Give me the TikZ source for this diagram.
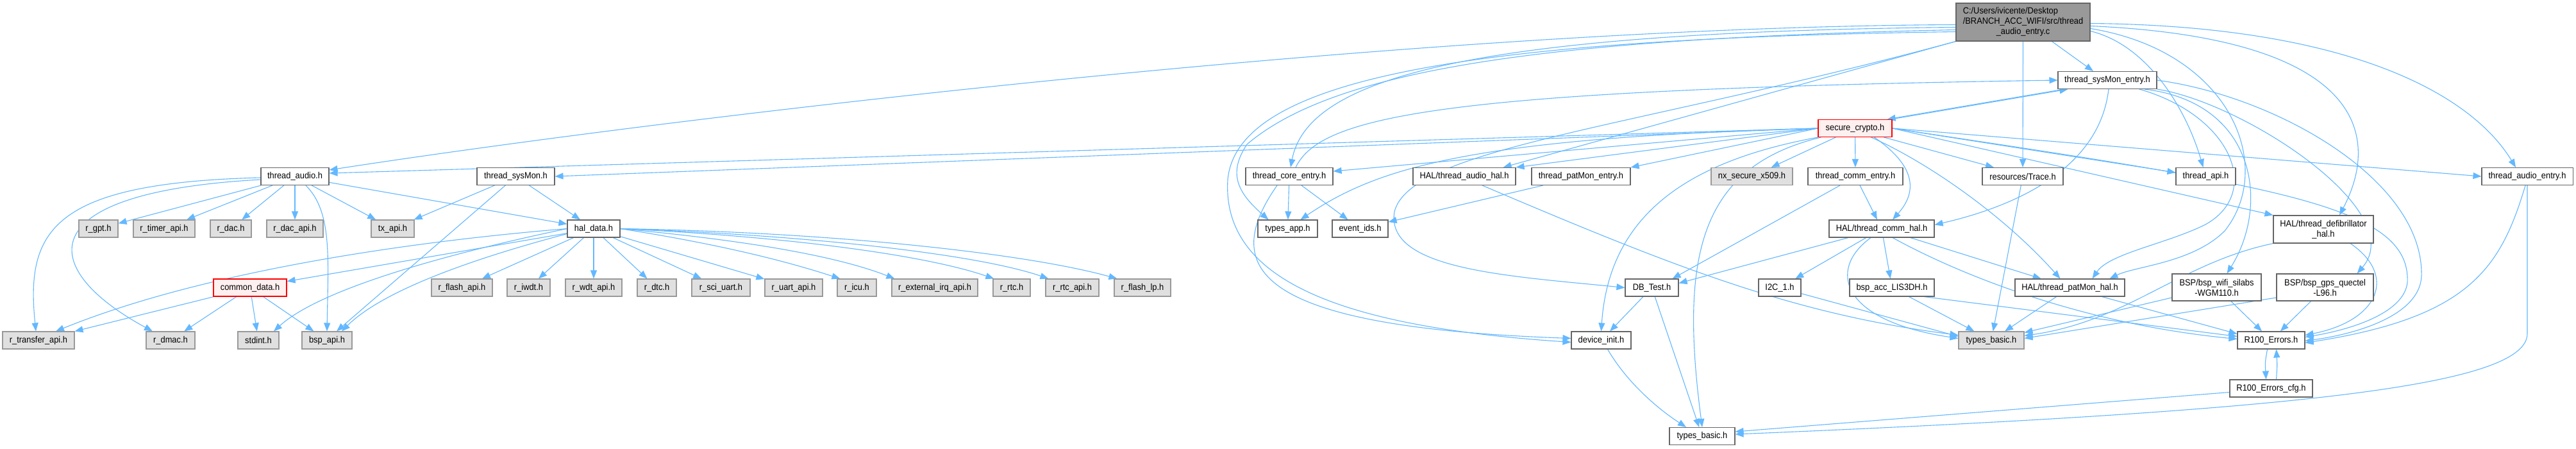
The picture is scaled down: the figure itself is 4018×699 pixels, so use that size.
\documentclass[tikz,border=0pt]{standalone}
\usepackage{fontspec}
\setmainfont{Liberation Sans}[FakeStretch=0.92]
\usetikzlibrary{arrows.meta}
\pgfdeclarelayer{bg}
\pgfsetlayers{bg,main}
\definecolor{edgec}{HTML}{63B8FF}
\definecolor{wborder}{HTML}{666666}
\definecolor{gfill}{HTML}{E0E0E0}
\definecolor{gborder}{HTML}{999999}
\definecolor{rfill}{HTML}{FFF0F0}
\definecolor{rootfill}{HTML}{999999}
\begin{document}
\begin{tikzpicture}[x=1pt,y=-1pt,
 box/.style={rectangle,inner sep=0pt,minimum height=27pt,line width=1.1pt,font=\fontsize{14}{16}\selectfont,align=center},
 wn/.style={box,draw=wborder,fill=white},
 gn/.style={box,draw=gborder,fill=gfill},
 rn/.style={box,draw=red,fill=rfill},
 rootn/.style={box,draw=wborder,fill=rootfill},
 dep/.style={draw=edgec,line width=1.1pt,-{Triangle[length=13pt,width=10pt]}}]
\useasboundingbox (0,0) rectangle (4018,699);
% ---------- nodes ----------
\node[rootn,minimum width=209pt,minimum height=59pt] (R) at (3155.5,34.5)
 {\begin{tabular}{@{}l@{}}C:/Users/ivicente/Desktop\\/BRANCH\_ACC\_WIFI/src/thread\\\multicolumn{1}{@{}c@{}}{\_audio\_entry.c}\end{tabular}};
\node[wn,minimum width=154pt] (TSE) at (3287,125) {thread\_sysMon\_entry.h};
\node[rn,minimum width=115pt] (SC) at (2893.5,200) {secure\_crypto.h};
% row 3
\node[wn,minimum width=106pt] (TA) at (460,275) {thread\_audio.h};
\node[wn,minimum width=121pt] (TSM) at (804.5,275) {thread\_sysMon.h};
\node[wn,minimum width=136pt] (TCE) at (2011,275) {thread\_core\_entry.h};
\node[wn,minimum width=160pt] (TAH) at (2284,275) {HAL/thread\_audio\_hal.h};
\node[wn,minimum width=154pt] (PME) at (2466,275) {thread\_patMon\_entry.h};
\node[gn,minimum width=127pt] (NX) at (2732.5,275) {nx\_secure\_x509.h};
\node[wn,minimum width=148pt] (CE) at (2894,275) {thread\_comm\_entry.h};
\node[wn,minimum width=126pt] (TR) at (3155,275) {resources/Trace.h};
\node[wn,minimum width=93pt] (TAPI) at (3440.5,275) {thread\_api.h};
\node[wn,minimum width=142pt] (TAE) at (3942,275) {thread\_audio\_entry.h};
% row 4
\node[gn,minimum width=61pt] (gpt) at (153.5,356.5) {r\_gpt.h};
\node[gn,minimum width=96pt] (timer) at (256,356.5) {r\_timer\_api.h};
\node[gn,minimum width=64pt] (dac) at (360,356.5) {r\_dac.h};
\node[gn,minimum width=88pt] (dacapi) at (460,356.5) {r\_dac\_api.h};
\node[gn,minimum width=67pt] (tx) at (612.5,356.5) {tx\_api.h};
\node[wn,minimum width=82pt] (HD) at (926,356.5) {hal\_data.h};
\node[wn,minimum width=93pt] (TAPP) at (2008.5,356.5) {types\_app.h};
\node[wn,minimum width=87pt] (EV) at (2121.5,356.5) {event\_ids.h};
\node[wn,minimum width=164pt] (CH) at (2935,356.5) {HAL/thread\_comm\_hal.h};
\node[wn,minimum width=156pt,minimum height=43pt] (DEF) at (3624,357.5) {HAL/thread\_defibrillator\\\_hal.h};
% row 5
\node[rn,minimum width=114pt] (CD) at (390,448.5) {common\_data.h};
\node[gn,minimum width=95pt] (flash) at (720.5,448.5) {r\_flash\_api.h};
\node[gn,minimum width=67pt] (iwdt) at (824.5,448.5) {r\_iwdt.h};
\node[gn,minimum width=88pt] (wdt) at (926,448.5) {r\_wdt\_api.h};
\node[gn,minimum width=61pt] (dtc) at (1024.5,448.5) {r\_dtc.h};
\node[gn,minimum width=91pt] (sci) at (1124.5,448.5) {r\_sci\_uart.h};
\node[gn,minimum width=90pt] (uart) at (1238,448.5) {r\_uart\_api.h};
\node[gn,minimum width=61pt] (icu) at (1336.5,448.5) {r\_icu.h};
\node[gn,minimum width=134pt] (extirq) at (1458,448.5) {r\_external\_irq\_api.h};
\node[gn,minimum width=58pt] (rtc) at (1578,448.5) {r\_rtc.h};
\node[gn,minimum width=83pt] (rtcapi) at (1672.5,448.5) {r\_rtc\_api.h};
\node[gn,minimum width=88pt] (flashlp) at (1782,448.5) {r\_flash\_lp.h};
\node[wn,minimum width=83pt] (DB) at (2576.5,448.5) {DB\_Test.h};
\node[wn,minimum width=66pt] (I2C) at (2776,448.5) {I2C\_1.h};
\node[wn,minimum width=132pt] (ACC) at (2951,448.5) {bsp\_acc\_LIS3DH.h};
\node[wn,minimum width=171pt] (PMH) at (3228.5,448.5) {HAL/thread\_patMon\_hal.h};
\node[wn,minimum width=139pt,minimum height=42pt] (WIFI) at (3457.5,448) {BSP/bsp\_wifi\_silabs\\-WGM110.h};
\node[wn,minimum width=151pt,minimum height=42pt] (GPS) at (3626.5,448) {BSP/bsp\_gps\_quectel\\-L96.h};
% row 6
\node[gn,minimum width=112pt] (xfer) at (60,530.5) {r\_transfer\_api.h};
\node[gn,minimum width=76pt] (dmac) at (266,530.5) {r\_dmac.h};
\node[gn,minimum width=64pt] (stdint) at (403,530.5) {stdint.h};
\node[gn,minimum width=78pt] (bsp) at (510,530.5) {bsp\_api.h};
\node[wn,minimum width=93pt] (DI) at (2497.5,530.5) {device\_init.h};
\node[gn,minimum width=102pt] (TBG) at (3106,530.5) {types\_basic.h};
\node[wn,minimum width=105pt] (RE) at (3542.5,530.5) {R100\_Errors.h};
% row 7,8
\node[wn,minimum width=129pt] (REC) at (3542.5,605.5) {R100\_Errors\_cfg.h};
\node[wn,minimum width=102pt] (TBW) at (2655,680) {types\_basic.h};
% ---------- edges ----------
\begin{pgfonlayer}{bg}
\fill[white] (0,0) rectangle (4018,699);
% root
\draw[dep] ([yshift=-4pt]R.west) .. controls (2200,42) and (1000,190) .. ([yshift=10pt]TA.east);
\draw[dep] ([yshift=-8pt]R.west) .. controls (2300,50) and (2040,120) .. ([xshift=2pt]TCE.north);
\draw[dep] ([yshift=-12pt]R.west) .. controls (2400,60) and (2080,110) .. (1945,225) .. controls (1915,270) and (1930,300) .. ([xshift=-30pt]TAPP.north);
\draw[dep] ([yshift=-15pt]R.west) .. controls (2300,60) and (1930,120) .. (1915,280) .. controls (1905,440) and (2100,510) .. ([yshift=-3pt]DI.west);
\draw[dep] (R.south west) -- ([xshift=-20pt]TAH.north east);
\draw[dep] (R.south west) .. controls (2550,200) and (2200,230) .. (2175,330) .. controls (2160,420) and (2350,430) .. (DB.west);
\draw[dep] ([xshift=45pt]R.south) -- ([xshift=-22pt]TSE.north);
\draw[dep] (R.south) -- (TR.north);
\draw[dep] ([yshift=-2pt]R.east) .. controls (3650,40) and (3850,140) .. ([xshift=-18pt]TAE.north);
\draw[dep] ([yshift=-6pt]R.east) .. controls (3700,60) and (3710,220) .. ([xshift=25pt]DEF.north);
\draw[dep] ([yshift=-10pt]R.east) .. controls (3480,80) and (3550,260) .. (3470,360) .. controls (3420,410) and (3330,415) .. ([xshift=62pt]PMH.north);
\draw[dep] ([yshift=-14pt]R.east) .. controls (3350,70) and (3410,170) .. ([xshift=-4pt]TAPI.north);
% thread_sysMon_entry.h
\draw[dep] ([xshift=10pt]TSE.south west) -- ([xshift=-8pt]SC.north east);
\draw[dep] ([xshift=-2pt]SC.north east) -- ([xshift=16pt]TSE.south west);
\draw[dep] ([xshift=2pt]TSE.south) .. controls (3275,260) and (3150,320) .. ([yshift=6pt]CH.east);
\draw[dep] ([xshift=50pt]TSE.south) .. controls (3480,180) and (3530,300) .. (3440,350) .. controls (3380,380) and (3290,395) .. ([xshift=35pt]PMH.north);
\draw[dep] ([xshift=58pt]TSE.south) .. controls (3520,160) and (3540,320) .. ([xshift=16pt]WIFI.north);
\draw[dep] (TSE.south east) .. controls (3500,160) and (3760,330) .. ([xshift=50pt]GPS.north);
\draw[dep] (TSE.east) .. controls (3550,150) and (3780,280) .. (3777,430) .. controls (3775,490) and (3680,520) .. ([yshift=-1pt]RE.east);
% thread_core_entry.h
\draw[dep] ([xshift=10pt]TCE.north) .. controls (2060,180) and (2250,140) .. (TSE.west);
\draw[dep] (TCE) -- (TAPP);
\draw[dep] (TCE) -- (EV);
\draw[dep] ([xshift=-19pt]TCE.south) .. controls (1900,420) and (1960,510) .. ([yshift=3pt]DI.west);
\draw[dep] (PME) -- (EV);
% secure_crypto.h
\draw[dep] (SC.west) -- ([yshift=5pt]TA.east);
\draw[dep] (SC.west) -- (TSM.east);
\draw[dep] (SC.west) -- ([yshift=8pt]TCE.east);
\draw[dep] (SC.west) -- (TAH.north east);
\draw[dep] (SC.west) -- (PME.north east);
\draw[dep] (SC.west) .. controls (2300,215) and (2150,260) .. ([xshift=20pt]TAPP.north);
\draw[dep] (SC) -- (NX);
\draw[dep] (SC) -- (CE);
\draw[dep] ([xshift=30pt]SC.south) .. controls (2990,260) and (2990,300) .. ([xshift=17pt]CH.north);
\draw[dep] ([xshift=45pt]SC.south) -- ([xshift=-45pt]TR.north);
\draw[dep] ([xshift=25pt]SC.south) .. controls (3000,250) and (3120,330) .. ([xshift=-15pt]PMH.north);
\draw[dep] (SC.south west) .. controls (2640,250) and (2510,330) .. (DI.north);
\draw[dep] ([xshift=5pt]SC.south west) .. controls (2650,260) and (2620,400) .. (TBW.north);
\draw[dep] (SC.east) -- ([yshift=6pt]TAPI.west);
\draw[dep] (SC.east) -- (TAE.west);
\draw[dep] (SC.east) -- (DEF.north west);
\draw[dep] (SC.east) .. controls (3550,290) and (3760,320) .. (3755,440) .. controls (3750,490) and (3660,515) .. ([yshift=5pt]RE.east);
% comm
\draw[dep] (CE) -- (CH);
\draw[dep] ([xshift=-24pt]CE.south) -- ([xshift=-10pt]DB.north east);
\draw[dep] ([xshift=-52pt]CH.south) -- ([yshift=7pt]DB.east);
\draw[dep] (CH) -- (I2C);
\draw[dep] (CH) -- (ACC);
\draw[dep] (CH) -- (PMH);
\draw[dep] ([xshift=-17pt]CH.south) .. controls (2850,420) and (2870,500) .. ([yshift=3pt]TBG.west);
\draw[dep] ([xshift=17pt]CH.south) .. controls (3060,430) and (3250,505) .. ([yshift=2pt]RE.west);
\draw[dep] (I2C) -- ([yshift=6pt]TBG.west);
\draw[dep] (ACC) -- (TBG);
\draw[dep] ([xshift=50pt]ACC.south) -- ([yshift=6pt]RE.west);
\draw[dep] (PMH) -- (TBG);
\draw[dep] ([xshift=50pt]PMH.south) -- ([yshift=10pt]RE.west);
\draw[dep] (TR) -- (TBG);
\draw[dep] ([xshift=28pt]TAH.south) .. controls (2620,420) and (2800,490) .. ([yshift=8pt]TBG.west);
\draw[dep] (DEF.south west) .. controls (3400,410) and (3320,500) .. ([yshift=7pt]TBG.east);
\draw[dep] ([xshift=42pt]DEF.south) .. controls (3740,430) and (3710,500) .. ([yshift=8pt]RE.east);
\draw[dep] (WIFI) -- (RE);
\draw[dep] ([yshift=-16pt]WIFI.west) -- ([yshift=12pt]TBG.east);
\draw[dep] (GPS) -- (RE);
\draw[dep] ([yshift=-16pt]GPS.west) -- ([yshift=3pt]TBG.east);
\draw[dep] ([xshift=-3pt]TAE.south) .. controls (3900,420) and (3850,495) .. ([yshift=-4pt]RE.east);
\draw[dep] (TAE.south) -- (3942,520) .. controls (3942,600) and (3600,640) .. ([yshift=3pt]TBW.east);
\draw[dep] ([yshift=-6pt]REC.west) -- ([yshift=7pt]TBW.east);
\draw[dep] ([xshift=-6pt]RE.south) .. controls (3533,565) .. ([xshift=-8pt]REC.north);
\draw[dep] ([xshift=8pt]REC.north) .. controls (3552,570) .. ([xshift=8pt]RE.south);
\draw[dep] (DB) -- (DI);
\draw[dep] (DB) -- (TBW);
\draw[dep] ([xshift=10pt]DI.south) .. controls (2540,600) and (2590,640) .. ([xshift=-25pt]TBW.north);
% left part
\draw[dep] (TA) -- (gpt);
\draw[dep] (TA) -- (timer);
\draw[dep] (TA) -- (dac);
\draw[dep] (TA) -- (dacapi);
\draw[dep] (TA) -- (tx);
\draw[dep] (TA) -- (HD);
\draw[dep] ([xshift=17pt]TA.south) .. controls (518,330) and (512,400) .. (bsp.north);
\draw[dep] ([yshift=-2pt]TA.west) .. controls (80,285) and (40,360) .. ([xshift=-4pt]xfer.north);
\draw[dep] ([yshift=-5pt]TA.west) .. controls (40,300) and (60,420) .. ([xshift=-28pt]dmac.north);
\draw[dep] (TSM) -- (HD);
\draw[dep] (TSM) -- (tx);
\draw[dep] (TSM) -- ([xshift=15pt]bsp.north);
\draw[dep] (HD) -- (flash);
\draw[dep] (HD) -- (iwdt);
\draw[dep] (HD) -- (wdt);
\draw[dep] (HD) -- (dtc);
\draw[dep] (HD) -- (sci);
\draw[dep] (HD) -- (uart);
\draw[dep] (HD.east) .. controls (1150,385) and (1250,415) .. ([xshift=5pt]icu.north west);
\draw[dep] (HD.east) .. controls (1200,378) and (1320,405) .. ([xshift=5pt]extirq.north west);
\draw[dep] (HD.east) .. controls (1250,370) and (1450,400) .. ([xshift=2pt]rtc.north west);
\draw[dep] (HD.east) .. controls (1250,366) and (1520,395) .. ([xshift=5pt]rtcapi.north west);
\draw[dep] (HD.east) .. controls (1300,362) and (1600,395) .. ([xshift=5pt]flashlp.north west);
\draw[dep] (HD.west) .. controls (600,380) and (300,430) .. ([xshift=27pt]xfer.north);
\draw[dep] (HD) -- (CD);
\draw[dep] (HD.west) .. controls (700,395) and (500,450) .. ([xshift=24pt]stdint.north);
\draw[dep] ([yshift=-8pt]HD.west) .. controls (750,400) and (600,450) .. ([xshift=23pt]bsp.north);
\draw[dep] (CD) -- (xfer);
\draw[dep] (CD) -- (dmac);
\draw[dep] (CD) -- (stdint);
\draw[dep] (CD) -- (bsp);
\end{pgfonlayer}
\end{tikzpicture}
\end{document}
